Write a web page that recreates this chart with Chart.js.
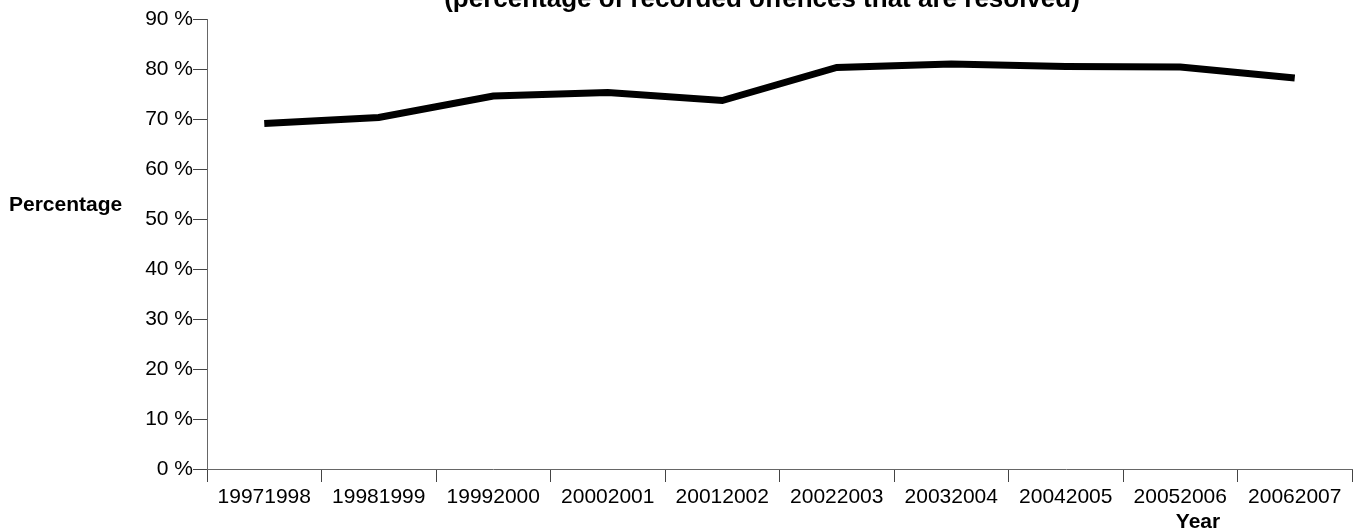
<!DOCTYPE html>
<html>
<head>
<meta charset="utf-8">
<script src="https://cdn.jsdelivr.net/npm/chart.js@4/dist/chart.umd.min.js"></script>
<style>
  html, body { margin: 0; padding: 0; background: #fff; }
  #wrap { width: 1357px; height: 529px; position: relative; }
</style>
</head>
<body>
<div id="wrap"><canvas id="clearance-chart" width="1357" height="529"></canvas></div>
<script>
const years = ['19971998', '19981999', '19992000', '20002001', '20012002',
               '20022003', '20032004', '20042005', '20052006', '20062007'];
const resolvedPct = [69.1, 70.3, 74.6, 75.3, 73.7, 80.3, 81.0, 80.5, 80.4, 78.2];
const titleText = '(percentage of recorded offences that are resolved)';
const yTitle = 'Percentage';
const xTitle = 'Year';

Chart.defaults.font.family = '"Liberation Sans", Arial, sans-serif';
Chart.defaults.color = '#000';

// titles drawn by hand, the original places them oddly
const textPlugin = {
    id: 'textPlugin',
    afterDraw(chart) {
        const ctx = chart.ctx;
        ctx.save();
        ctx.fillStyle = '#000';
        ctx.textBaseline = 'alphabetic';
        ctx.font = 'bold 26px "Liberation Sans", Arial, sans-serif';
        ctx.textAlign = 'center';
        ctx.fillText(titleText, 762, 7);
        ctx.font = 'bold 21px "Liberation Sans", Arial, sans-serif';
        ctx.textAlign = 'left';
        ctx.fillText(yTitle, 9, 211);
        ctx.textAlign = 'center';
        ctx.fillText(xTitle, 1198, 528);
        ctx.restore();
    }
};

const ctx = document.getElementById('clearance-chart').getContext('2d');
new Chart(ctx, {
    type: 'line',
    data: {
        labels: years,
        datasets: [{
            label: 'Resolved',
            data: resolvedPct,
            borderColor: '#000',
            backgroundColor: '#000',
            borderWidth: 7,
            pointRadius: 0,
            tension: 0,
            fill: false
        }]
    },
    options: {
        responsive: false,
        animation: false,
        layout: { padding: { top: 19, right: 5, left: 0, bottom: 0 } },
        plugins: {
            legend: { display: false },
            tooltip: { enabled: false }
        },
        scales: {
            x: {
                type: 'category',
                offset: true,
                grid: { offset: true, drawOnChartArea: false, drawTicks: true, tickLength: 13, color: '#444' },
                border: { color: '#666', width: 1 },
                ticks: { font: { size: 21 }, padding: 3, maxRotation: 0, autoSkip: false },
                afterFit: s => { s.height = 60; }
            },
            y: {
                min: 0,
                max: 90,
                grid: { drawOnChartArea: false, drawTicks: true, tickLength: 14, color: '#444' },
                border: { color: '#666', width: 1 },
                ticks: { stepSize: 10, font: { size: 21 }, padding: 0, callback: v => v + ' %' },
                afterFit: s => { s.width = 207; }
            }
        }
    },
    plugins: [textPlugin]
});
</script>
</body>
</html>
